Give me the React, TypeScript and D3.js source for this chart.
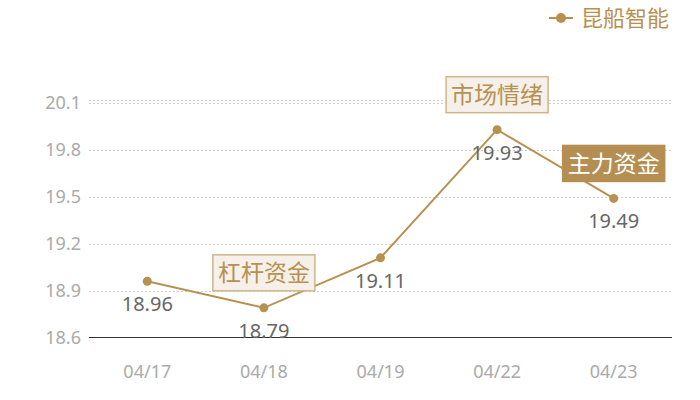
import { scaleBand, scaleLinear, line } from "d3";

const categories = ["04/17", "04/18", "04/19", "04/22", "04/23"];
const prices = [18.96, 18.79, 19.11, 19.93, 19.49];
const yTicks = [18.6, 18.9, 19.2, 19.5, 19.8, 20.1];
const seriesName = "昆船智能";
const calloutDates = ["04/18", "04/22", "04/23"];
const calloutLabels = ["杠杆资金", "市场情绪", "主力资金"];
const calloutFilled = [false, false, true];

const WIDTH = 700;
const HEIGHT = 400;
const GRID_LEFT = 89;
const GRID_RIGHT = 672;
const GRID_TOP = 100;
const GRID_BOTTOM = 337.5;
const Y_MAX = 20.12;

const ACCENT = "#b8904f";
const NUM_FONT = "'Noto Sans', 'Noto Sans CJK SC', sans-serif";
const CJK_FONT = "'Noto Sans CJK SC', sans-serif";

export default function App() {
  const xScale = scaleBand<string>().domain(categories).range([GRID_LEFT, GRID_RIGHT]);
  const yScale = scaleLinear().domain([yTicks[0], Y_MAX]).range([GRID_BOTTOM, GRID_TOP]);
  const xCenter = (category: string) => (xScale(category) ?? 0) + xScale.bandwidth() / 2;

  const points = categories.map((category, index) => ({ category, value: prices[index] }));
  const path = line<{ category: string; value: number }>()
    .x((point) => xCenter(point.category))
    .y((point) => yScale(point.value))(points);

  const gridValues = [...yTicks.slice(1), Y_MAX];

  return (
    <svg
      width={WIDTH}
      height={HEIGHT}
      viewBox={`0 0 ${WIDTH} ${HEIGHT}`}
      style={{ position: "absolute", left: 0, top: 0, background: "#fff" }}
    >
      {gridValues.map((value) => (
        <line
          key={value}
          x1={GRID_LEFT}
          x2={GRID_RIGHT}
          y1={Math.round(yScale(value)) + 0.5}
          y2={Math.round(yScale(value)) + 0.5}
          stroke="#d0d0d0"
          strokeDasharray="2,2"
          strokeWidth={1}
        />
      ))}
      <line x1={GRID_LEFT} x2={GRID_RIGHT} y1={GRID_BOTTOM} y2={GRID_BOTTOM} stroke="#333" strokeWidth={1} />

      {yTicks.map((tick) => (
        <text
          key={tick}
          x={81}
          y={yScale(tick)}
          dy="0.35em"
          textAnchor="end"
          fontFamily={NUM_FONT}
          fontSize={18}
          fill="#aaa"
        >
          {tick.toFixed(1)}
        </text>
      ))}

      {categories.map((category) => (
        <text
          key={category}
          x={xCenter(category)}
          y={378}
          textAnchor="middle"
          fontFamily={NUM_FONT}
          fontSize={18}
          fill="#aaa"
        >
          {category}
        </text>
      ))}

      {path ? <path d={path} fill="none" stroke={ACCENT} strokeWidth={2} /> : null}
      {points.map((point) => (
        <circle key={point.category} cx={xCenter(point.category)} cy={yScale(point.value)} r={4.5} fill={ACCENT} />
      ))}
      {points.map((point) => (
        <text
          key={point.category}
          x={xCenter(point.category)}
          y={yScale(point.value) + 30}
          textAnchor="middle"
          fontFamily={NUM_FONT}
          fontSize={20}
          fill="#666"
        >
          {point.value.toFixed(2)}
        </text>
      ))}

      {calloutDates.map((date, index) => {
        const value = prices[categories.indexOf(date)];
        const cx = xCenter(date);
        const bottom = yScale(value) - 17;
        const filled = calloutFilled[index];
        return (
          <g key={date}>
            <rect
              x={cx - 51}
              y={bottom - 36}
              width={102}
              height={36}
              fill={filled ? "#b58e52" : "#f5f0ea"}
              stroke={filled ? "#b58e52" : "#cfb487"}
              strokeWidth={1.5}
            />
            <text
              x={cx}
              y={bottom - 18}
              dy="0.36em"
              textAnchor="middle"
              fontFamily={CJK_FONT}
              fontSize={23}
              fill={filled ? "#fff" : ACCENT}
            >
              {calloutLabels[index]}
            </text>
          </g>
        );
      })}

      <g>
        <line x1={549} x2={573} y1={18} y2={18} stroke={ACCENT} strokeWidth={2} />
        <circle cx={561} cy={18} r={5} fill={ACCENT} />
        <text x={581} y={18} dy="0.36em" fontFamily={CJK_FONT} fontSize={22} fill={ACCENT}>
          {seriesName}
        </text>
      </g>
    </svg>
  );
}
